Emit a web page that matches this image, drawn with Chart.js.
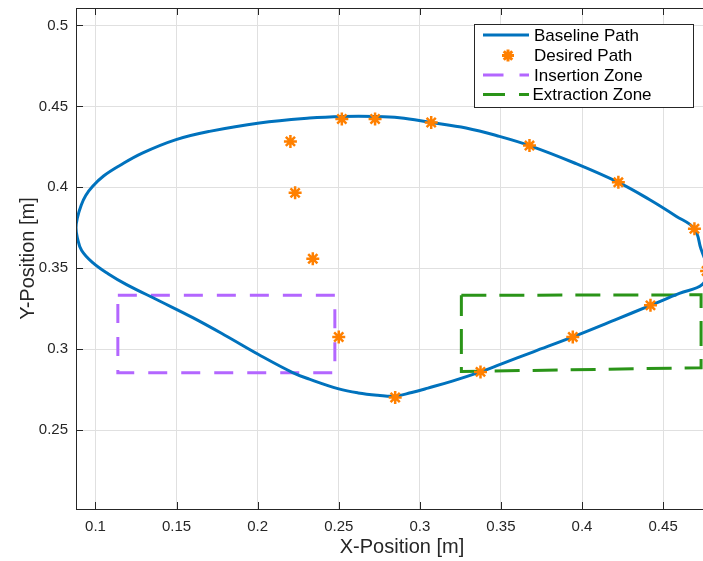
<!DOCTYPE html>
<html>
<head>
<meta charset="utf-8">
<script src="https://cdn.jsdelivr.net/npm/chart.js@4.4.1/dist/chart.umd.min.js"></script>
<style>
html,body{margin:0;padding:0;background:#fff;overflow:hidden;width:703px;height:561px}
#wrap{position:relative;width:728px;height:561px}
</style>
</head>
<body>
<div id="wrap"><canvas id="c"></canvas></div>
<script>
// ---- data ----
// closed baseline loop, starting and ending at its right tip (just outside the visible figure)
const baselineX = [0.4780,0.4734,0.4693,0.4580,0.4415,0.4224,0.3950,0.3676,0.3491,0.3285,0.3070,0.2874,0.2724,0.2525,0.2319,0.2011,0.1703,0.1497,0.1292,0.1150,0.1050,0.0983,0.0940,0.0912,0.0888,0.0880,0.0888,0.0915,0.0983,0.1080,0.1189,0.1395,0.1600,0.1806,0.2003,0.2216,0.2319,0.2500,0.2620,0.2740,0.2848,0.2950,0.3050,0.3200,0.3374,0.3500,0.3700,0.3943,0.4200,0.4422,0.4600,0.4742,0.4780];
const baselineY = [0.3500,0.3617,0.3744,0.3822,0.3925,0.4031,0.4152,0.4258,0.4315,0.4367,0.4401,0.4430,0.4438,0.4438,0.4428,0.4398,0.4346,0.4295,0.4213,0.4135,0.4070,0.4007,0.3950,0.3890,0.3810,0.3750,0.3690,0.3610,0.3535,0.3465,0.3401,0.3298,0.3195,0.3082,0.2969,0.2856,0.2815,0.2755,0.2730,0.2716,0.2710,0.2733,0.2760,0.2803,0.2860,0.2908,0.2984,0.3076,0.3180,0.3271,0.3345,0.3400,0.3500];
const desiredX = [0.2500,0.2340,0.2231,0.2202,0.2519,0.2724,0.3070,0.3676,0.4224,0.4693,0.4768,0.4422,0.3943,0.3374,0.2848];
const desiredY = [0.3076,0.3559,0.3966,0.4284,0.4422,0.4422,0.4401,0.4258,0.4031,0.3744,0.3483,0.3271,0.3076,0.2860,0.2702];
const insertionX = [0.1138,0.2476,0.2476,0.1138,0.1138];
const insertionY = [0.3333,0.3333,0.2855,0.2855,0.3333];
const extractionX = [0.3256,0.4734,0.4734,0.3256,0.3256];
const extractionY = [0.3333,0.3336,0.2886,0.2862,0.3333];
const xTicks = [0.1,0.15,0.2,0.25,0.3,0.35,0.4,0.45];
const yTicks = [0.25,0.3,0.35,0.4,0.45,0.5];
const legendLabels = ['Baseline Path','Desired Path','Insertion Zone','Extraction Zone'];

const BLUE = '#0072BD', ORANGE = '#FF8000', PURPLE = '#B366FF', GREEN = '#2A9418';
const AXC = '#262626';
const FONT = "'Liberation Sans', Arial, Helvetica, sans-serif";

const pts = (xs, ys) => xs.map((x, i) => ({x: x, y: ys[i]}));

const framePlugin = {
  id: 'matlabFrame',
  afterDraw(chart) {
    const {ctx, chartArea: a, scales} = chart;
    const xs = scales.x, ys = scales.y;
    ctx.save();
    ctx.strokeStyle = AXC;
    ctx.lineWidth = 1;
    ctx.setLineDash([]);
    ctx.beginPath();
    ctx.moveTo(a.left + 0.5, a.top); ctx.lineTo(a.left + 0.5, a.bottom + 1);
    ctx.moveTo(a.right - 0.5, a.top); ctx.lineTo(a.right - 0.5, a.bottom + 1);
    ctx.moveTo(a.left, a.top + 0.5); ctx.lineTo(a.right, a.top + 0.5);
    ctx.moveTo(a.left, a.bottom + 0.5); ctx.lineTo(a.right, a.bottom + 0.5);
    const TL = 7;
    xTicks.forEach(v => {
      const px = Math.round(xs.getPixelForValue(v)) + 0.5;
      ctx.moveTo(px, a.bottom); ctx.lineTo(px, a.bottom - TL);
      ctx.moveTo(px, a.top); ctx.lineTo(px, a.top + TL);
    });
    yTicks.forEach(v => {
      const py = Math.round(ys.getPixelForValue(v)) + 0.5;
      ctx.moveTo(a.left, py); ctx.lineTo(a.left + TL, py);
      ctx.moveTo(a.right, py); ctx.lineTo(a.right - TL, py);
    });
    ctx.stroke();

    // legend
    const L = {x: 474, y: 24, w: 219, h: 83};
    ctx.fillStyle = '#fff';
    ctx.fillRect(L.x, L.y, L.w, L.h);
    ctx.strokeStyle = AXC;
    ctx.strokeRect(L.x + 0.5, L.y + 0.5, L.w, L.h);
    const rows = [35, 55.5, 75, 94.5];
    const sx0 = 483, sx1 = 529;
    ctx.lineCap = 'butt';
    ctx.strokeStyle = BLUE; ctx.lineWidth = 3;
    ctx.beginPath(); ctx.moveTo(sx0, rows[0]); ctx.lineTo(sx1, rows[0]); ctx.stroke();
    ctx.strokeStyle = ORANGE; ctx.fillStyle = ORANGE;
    Chart.helpers.drawPoint(ctx, {pointStyle: 'star', radius: 6, borderWidth: 1.5, rotation: 0}, 508, rows[1]);
    ctx.strokeStyle = PURPLE; ctx.lineWidth = 3; ctx.setLineDash([20.5, 16]);
    ctx.beginPath(); ctx.moveTo(sx0, rows[2]); ctx.lineTo(sx1, rows[2]); ctx.stroke();
    ctx.strokeStyle = GREEN; ctx.setLineDash([22, 14]);
    ctx.beginPath(); ctx.moveTo(sx0, rows[3]); ctx.lineTo(sx1, rows[3]); ctx.stroke();
    ctx.setLineDash([]);
    ctx.fillStyle = '#000';
    ctx.font = '17px ' + FONT;
    ctx.textBaseline = 'middle';
    ctx.textAlign = 'left';
    legendLabels.forEach((t, i) => ctx.fillText(t, i === 3 ? 532.5 : 534, rows[i] + 1));
    ctx.restore();
  }
};

const ctx = document.getElementById('c').getContext('2d');
const chart = new Chart(ctx, {
  type: 'scatter',
  data: {
    datasets: [
      {
        label: legendLabels[1],
        data: pts(desiredX, desiredY),
        showLine: false,
        pointStyle: 'star',
        pointRadius: 6.5,
        pointBorderWidth: 2.5,
        pointBorderColor: ORANGE,
        pointBackgroundColor: ORANGE,
        clip: false
      },
      {
        label: legendLabels[0],
        data: pts(baselineX, baselineY),
        showLine: true,
        borderColor: BLUE,
        borderWidth: 3,
        pointRadius: 0,
        tension: 0.4,
        fill: false
      },
      {
        label: legendLabels[2],
        data: pts(insertionX, insertionY),
        showLine: true,
        borderColor: PURPLE,
        borderWidth: 3,
        borderDash: [19, 14],
        pointRadius: 0,
        tension: 0,
        fill: false
      },
      {
        label: legendLabels[3],
        data: pts(extractionX, extractionY),
        showLine: true,
        borderColor: GREEN,
        borderWidth: 3,
        borderDash: [25, 13],
        pointRadius: 0,
        tension: 0,
        fill: false
      }
    ]
  },
  options: {
    responsive: true,
    maintainAspectRatio: false,
    animation: false,
    devicePixelRatio: 1,
    layout: {autoPadding: false, padding: {top: 8, right: 0, bottom: 0, left: 0}},
    plugins: {legend: {display: false}, tooltip: {enabled: false}},
    scales: {
      x: {
        type: 'linear',
        min: 0.088,
        max: 0.4900,
        afterBuildTicks: s => { s.ticks = xTicks.map(v => ({value: v})); },
        afterFit: s => { s.height = 52; s.paddingLeft = 0; s.paddingRight = 0; },
        grid: {color: '#e0e0e0', drawTicks: false, lineWidth: 1},
        border: {display: false},
        ticks: {
          color: AXC, padding: 9, maxRotation: 0, autoSkip: false,
          font: {family: FONT, size: 15},
          callback: v => String(+v.toFixed(2))
        },
        title: {display: true, text: 'X-Position [m]', color: AXC, font: {family: FONT, size: 20}, padding: {top: 0, bottom: 2}}
      },
      y: {
        type: 'linear',
        min: 0.2013,
        max: 0.5108,
        afterBuildTicks: s => { s.ticks = yTicks.map(v => ({value: v})); },
        afterFit: s => { s.width = 76; s.paddingTop = 0; s.paddingBottom = 0; },
        grid: {color: '#e0e0e0', drawTicks: false, lineWidth: 1},
        border: {display: false},
        ticks: {
          color: AXC, padding: 8, autoSkip: false,
          font: {family: FONT, size: 15},
          callback: v => String(+v.toFixed(2))
        },
        title: {display: true, text: 'Y-Position [m]', color: AXC, font: {family: FONT, size: 20}, padding: {top: 16, bottom: 0}}
      }
    }
  },
  plugins: [framePlugin]
});
</script>
</body>
</html>
